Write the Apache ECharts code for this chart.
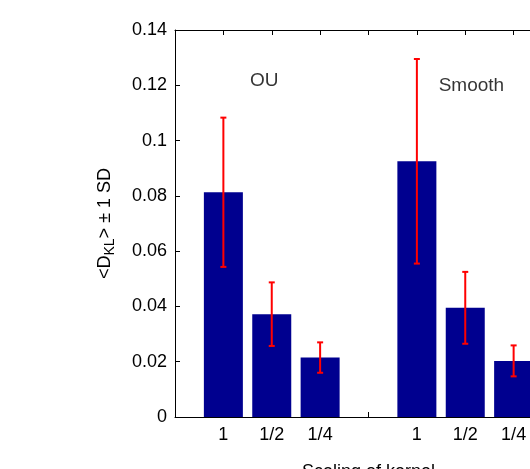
<!DOCTYPE html>
<html>
<head>
<meta charset="utf-8">
<script src="https://cdn.jsdelivr.net/npm/echarts@6/dist/echarts.min.js"></script>
<style>html,body{margin:0;padding:0;background:#fff;}#c{width:530px;height:469px;}</style>
</head>
<body>
<div id="c"></div>
<script>
// x positions of bars (bar index on the axis), tick labels
var positions = [1, 2, 3, 5, 6, 7];
var tickLabels = ['', '1', '1/2', '1/4', '', '1', '1/2', '1/4', ''];
// mean D_KL
var means = [0.0813, 0.0372, 0.0215, 0.0925, 0.0395, 0.0203];
// one standard deviation
var sds = [0.0270, 0.0115, 0.0055, 0.0370, 0.0130, 0.0056];
// group annotations
var groupNames = ['OU', 'Smooth'];
var groupNamePos = [[1.55, 0.1216], [5.45, 0.1198]];

var FONT = 'Liberation Sans';
var barData = positions.map(function (p, i) { return [p, means[i]]; });
var errData = positions.map(function (p, i) { return [p, means[i] - sds[i], means[i] + sds[i]]; });

var chart = echarts.init(document.getElementById('c'), null, { renderer: 'canvas' });
chart.setOption({
  backgroundColor: '#fff',
  animation: false,
  grid: { left: 175, top: 30, width: 387, height: 387, containLabel: false, outerBoundsMode: 'none' },
  xAxis: [{
    type: 'value', min: 0, max: 8, interval: 1, position: 'bottom',
    axisLine: { lineStyle: { color: '#000', width: 1 } },
    axisTick: { inside: true, length: 5, lineStyle: { color: '#000' } },
    axisLabel: {
      color: '#000', fontFamily: FONT, fontSize: 18, margin: 9,
      formatter: function (v) { return Math.abs(v - Math.round(v)) < 1e-6 ? (tickLabels[Math.round(v)] || '') : ''; }
    },
    splitLine: { show: false },
    name: 'Scaling of kernel', nameLocation: 'middle', nameGap: 46,
    nameTextStyle: { color: '#000', fontFamily: FONT, fontSize: 18 }
  }, {
    type: 'value', min: 0, max: 8, interval: 1, position: 'top',
    axisLine: { lineStyle: { color: '#000', width: 1 } },
    axisTick: { inside: true, length: 5, lineStyle: { color: '#000' } },
    axisLabel: { show: false }, splitLine: { show: false }
  }],
  yAxis: [{
    type: 'value', min: 0, max: 0.14, interval: 0.02, position: 'left',
    axisLine: { show: true, lineStyle: { color: '#000', width: 1 } },
    axisTick: { show: true, inside: true, length: 5, lineStyle: { color: '#000' } },
    axisLabel: {
      color: '#000', fontFamily: FONT, fontSize: 18, margin: 8,
      formatter: function (v) { return v === 0 ? '0' : String(parseFloat(v.toFixed(2))); }
    },
    splitLine: { show: false },
    name: '<D{sub|KL}> ± 1 SD', nameLocation: 'middle', nameRotate: 90, nameGap: 58,
    nameTextStyle: {
      color: '#000', fontFamily: FONT, fontSize: 18,
      rich: { sub: { fontFamily: FONT, fontSize: 14, color: '#000', padding: [10, 0, 0, 0] } }
    }
  }],
  series: [{
    type: 'bar', data: barData, barWidth: 39, xAxisIndex: 0,
    itemStyle: { color: '#00008F' }, z: 2
  }, {
    type: 'custom', xAxisIndex: 0, data: errData, z: 5,
    renderItem: function (params, api) {
      var x = api.value(0);
      var lo = api.coord([x, api.value(1)]);
      var hi = api.coord([x, api.value(2)]);
      var cap = 3;
      var st = { stroke: '#FF0000', lineWidth: 2 };
      return {
        type: 'group', children: [
          { type: 'line', shape: { x1: lo[0], y1: lo[1], x2: hi[0], y2: hi[1] }, style: st },
          { type: 'line', shape: { x1: hi[0] - cap, y1: hi[1], x2: hi[0] + cap, y2: hi[1] }, style: st },
          { type: 'line', shape: { x1: lo[0] - cap, y1: lo[1], x2: lo[0] + cap, y2: lo[1] }, style: st }
        ]
      };
    }
  }, {
    type: 'scatter', xAxisIndex: 0, symbolSize: 0,
    data: groupNamePos.map(function (p, i) { return { value: p, name: groupNames[i] }; }),
    label: {
      show: true, position: 'right', distance: 0, color: '#000', fontFamily: FONT, fontSize: 19,
      formatter: function (p) { return p.name; }
    }
  }]
});
</script>
</body>
</html>
